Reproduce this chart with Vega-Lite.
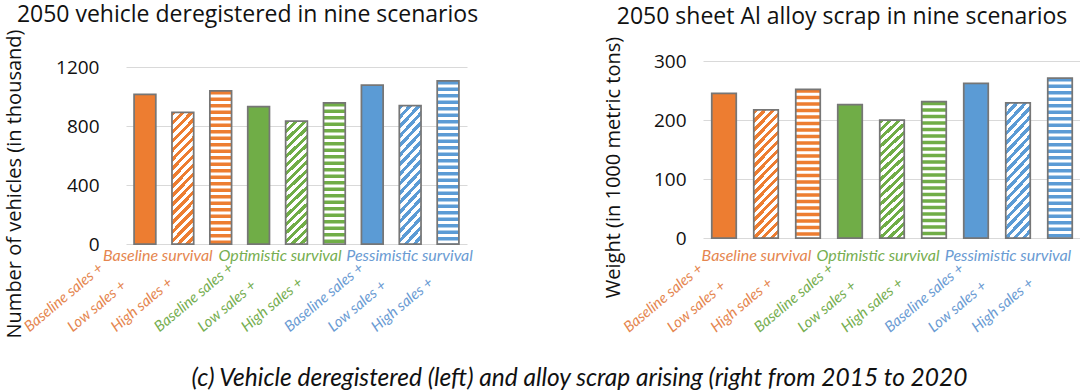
{
  "$schema": "https://vega.github.io/schema/vega-lite/v6.json",
  "background": "white",
  "padding": {"left": 3, "top": 4, "right": 0, "bottom": 0},
  "autosize": {"type": "pad"},
  "bounds": "flush",
  "spacing": 236,
  "title": {"text": "(c) Vehicle deregistered (left) and alloy scrap arising (right from 2015 to 2020", "orient": "bottom", "anchor": "middle", "font": "Lato", "fontStyle": "italic", "fontSize": 24.5, "fontWeight": "normal", "color": "#111111", "offset": 29, "dx": 37},
  "data": {"values": [
    {"id": 1, "sales": "Baseline", "survival": "Baseline", "vehicles": 1015, "scrap": 245},
    {"id": 2, "sales": "Low", "survival": "Baseline", "vehicles": 893, "scrap": 217},
    {"id": 3, "sales": "High", "survival": "Baseline", "vehicles": 1038, "scrap": 252},
    {"id": 4, "sales": "Baseline", "survival": "Optimistic", "vehicles": 931, "scrap": 226},
    {"id": 5, "sales": "Low", "survival": "Optimistic", "vehicles": 833, "scrap": 200},
    {"id": 6, "sales": "High", "survival": "Optimistic", "vehicles": 957, "scrap": 231},
    {"id": 7, "sales": "Baseline", "survival": "Pessimistic", "vehicles": 1078, "scrap": 262},
    {"id": 8, "sales": "Low", "survival": "Pessimistic", "vehicles": 938, "scrap": 229},
    {"id": 9, "sales": "High", "survival": "Pessimistic", "vehicles": 1106, "scrap": 271}
  ]},
  "hconcat": [
    {
      "width": 341,
      "height": 183,
      "title": {"text": "2050 vehicle deregistered in nine scenarios", "font": "Open Sans", "fontSize": 23, "fontWeight": "normal", "color": "#111111", "anchor": "middle", "dx": -49, "offset": 2},
      "encoding": {
        "y": {"field": "vehicles", "type": "quantitative", "scale": {"domain": [0, 1241], "nice": false},
          "axis": {"title": "Number of vehicles (in thousand)", "values": [0, 400, 800, 1200], "format": "d", "domain": false, "ticks": false, "grid": true, "gridColor": "#d9d9d9", "gridWidth": 1.2, "labelPadding": 27, "labelFont": "Open Sans", "labelFontSize": 19, "labelColor": "#111111", "titleFont": "Open Sans", "titleFontSize": 20, "titleFontWeight": "normal", "titleColor": "#111111", "titleX": -112, "titleY": 122.5, "titleBaseline": "middle", "titleAlign": "center", "titleAngle": 270}}
      },
      "layer": [
        {
          "mark": {"type": "bar", "strokeWidth": 0},
          "encoding": {
            "x": {"field": "id", "type": "ordinal", "scale": {"type": "band", "domain": [1, 2, 3, 4, 5, 6, 7, 8, 9], "paddingInner": 0.427, "paddingOuter": 0.2135},
              "axis": {"orient": "bottom", "title": null, "domain": false, "ticks": false, "grid": false, "labelAngle": -40, "labelAlign": "left", "labelBaseline": "alphabetic", "labelPadding": 88, "labelFont": "Lato", "labelFontStyle": "italic", "labelFontSize": 15, "labelOverlap": false,
                "labelExpr": "['Baseline sales +','Low sales +','High sales +'][(datum.value-1)%3]",
                "labelColor": {"condition": [{"test": "datum.value<=3", "value": "#E5864F"}, {"test": "datum.value<=6", "value": "#76AE50"}], "value": "#6A9BD3"},
                "labelOffset": {"condition": [{"test": "datum.value==1", "value": -115.5}, {"test": "datum.value==2", "value": -110}, {"test": "datum.value==3", "value": -104.5}, {"test": "datum.value==4", "value": -99}, {"test": "datum.value==5", "value": -93.5}, {"test": "datum.value==6", "value": -88}, {"test": "datum.value==7", "value": -82.5}, {"test": "datum.value==8", "value": -77}], "value": -71.5}}},
            "fill": {"condition": [
              {"test": "datum.id==1", "value": "#ED7D31"},
              {"test": "datum.id==4", "value": "#70AD47"},
              {"test": "datum.id==7", "value": "#5B9BD5"},
              {"test": "datum.id==2", "value": {"gradient": "linear", "x1": 0, "y1": 0, "x2": 0.193, "y2": 1.137, "stops": [
{"offset":0.0294,"color":"#ED7D31"},{"offset":0.0294,"color":"#fff"},{"offset":0.0588,"color":"#fff"},{"offset":0.0588,"color":"#ED7D31"},
{"offset":0.0882,"color":"#ED7D31"},{"offset":0.0882,"color":"#fff"},{"offset":0.1176,"color":"#fff"},{"offset":0.1176,"color":"#ED7D31"},
{"offset":0.1471,"color":"#ED7D31"},{"offset":0.1471,"color":"#fff"},{"offset":0.1765,"color":"#fff"},{"offset":0.1765,"color":"#ED7D31"},
{"offset":0.2059,"color":"#ED7D31"},{"offset":0.2059,"color":"#fff"},{"offset":0.2353,"color":"#fff"},{"offset":0.2353,"color":"#ED7D31"},
{"offset":0.2647,"color":"#ED7D31"},{"offset":0.2647,"color":"#fff"},{"offset":0.2941,"color":"#fff"},{"offset":0.2941,"color":"#ED7D31"},
{"offset":0.3235,"color":"#ED7D31"},{"offset":0.3235,"color":"#fff"},{"offset":0.3529,"color":"#fff"},{"offset":0.3529,"color":"#ED7D31"},
{"offset":0.3824,"color":"#ED7D31"},{"offset":0.3824,"color":"#fff"},{"offset":0.4118,"color":"#fff"},{"offset":0.4118,"color":"#ED7D31"},
{"offset":0.4412,"color":"#ED7D31"},{"offset":0.4412,"color":"#fff"},{"offset":0.4706,"color":"#fff"},{"offset":0.4706,"color":"#ED7D31"},
{"offset":0.5,"color":"#ED7D31"},{"offset":0.5,"color":"#fff"},{"offset":0.5294,"color":"#fff"},{"offset":0.5294,"color":"#ED7D31"},
{"offset":0.5588,"color":"#ED7D31"},{"offset":0.5588,"color":"#fff"},{"offset":0.5882,"color":"#fff"},{"offset":0.5882,"color":"#ED7D31"},
{"offset":0.6176,"color":"#ED7D31"},{"offset":0.6176,"color":"#fff"},{"offset":0.6471,"color":"#fff"},{"offset":0.6471,"color":"#ED7D31"},
{"offset":0.6765,"color":"#ED7D31"},{"offset":0.6765,"color":"#fff"},{"offset":0.7059,"color":"#fff"},{"offset":0.7059,"color":"#ED7D31"},
{"offset":0.7353,"color":"#ED7D31"},{"offset":0.7353,"color":"#fff"},{"offset":0.7647,"color":"#fff"},{"offset":0.7647,"color":"#ED7D31"},
{"offset":0.7941,"color":"#ED7D31"},{"offset":0.7941,"color":"#fff"},{"offset":0.8235,"color":"#fff"},{"offset":0.8235,"color":"#ED7D31"},
{"offset":0.8529,"color":"#ED7D31"},{"offset":0.8529,"color":"#fff"},{"offset":0.8824,"color":"#fff"},{"offset":0.8824,"color":"#ED7D31"},
{"offset":0.9118,"color":"#ED7D31"},{"offset":0.9118,"color":"#fff"},{"offset":0.9412,"color":"#fff"},{"offset":0.9412,"color":"#ED7D31"},
{"offset":0.9706,"color":"#ED7D31"},{"offset":0.9706,"color":"#fff"}]}},
              {"test": "datum.id==5", "value": {"gradient": "linear", "x1": 0, "y1": 0, "x2": 0.193, "y2": 1.137, "stops": [
{"offset":0.0294,"color":"#70AD47"},{"offset":0.0294,"color":"#fff"},{"offset":0.0588,"color":"#fff"},{"offset":0.0588,"color":"#70AD47"},
{"offset":0.0882,"color":"#70AD47"},{"offset":0.0882,"color":"#fff"},{"offset":0.1176,"color":"#fff"},{"offset":0.1176,"color":"#70AD47"},
{"offset":0.1471,"color":"#70AD47"},{"offset":0.1471,"color":"#fff"},{"offset":0.1765,"color":"#fff"},{"offset":0.1765,"color":"#70AD47"},
{"offset":0.2059,"color":"#70AD47"},{"offset":0.2059,"color":"#fff"},{"offset":0.2353,"color":"#fff"},{"offset":0.2353,"color":"#70AD47"},
{"offset":0.2647,"color":"#70AD47"},{"offset":0.2647,"color":"#fff"},{"offset":0.2941,"color":"#fff"},{"offset":0.2941,"color":"#70AD47"},
{"offset":0.3235,"color":"#70AD47"},{"offset":0.3235,"color":"#fff"},{"offset":0.3529,"color":"#fff"},{"offset":0.3529,"color":"#70AD47"},
{"offset":0.3824,"color":"#70AD47"},{"offset":0.3824,"color":"#fff"},{"offset":0.4118,"color":"#fff"},{"offset":0.4118,"color":"#70AD47"},
{"offset":0.4412,"color":"#70AD47"},{"offset":0.4412,"color":"#fff"},{"offset":0.4706,"color":"#fff"},{"offset":0.4706,"color":"#70AD47"},
{"offset":0.5,"color":"#70AD47"},{"offset":0.5,"color":"#fff"},{"offset":0.5294,"color":"#fff"},{"offset":0.5294,"color":"#70AD47"},
{"offset":0.5588,"color":"#70AD47"},{"offset":0.5588,"color":"#fff"},{"offset":0.5882,"color":"#fff"},{"offset":0.5882,"color":"#70AD47"},
{"offset":0.6176,"color":"#70AD47"},{"offset":0.6176,"color":"#fff"},{"offset":0.6471,"color":"#fff"},{"offset":0.6471,"color":"#70AD47"},
{"offset":0.6765,"color":"#70AD47"},{"offset":0.6765,"color":"#fff"},{"offset":0.7059,"color":"#fff"},{"offset":0.7059,"color":"#70AD47"},
{"offset":0.7353,"color":"#70AD47"},{"offset":0.7353,"color":"#fff"},{"offset":0.7647,"color":"#fff"},{"offset":0.7647,"color":"#70AD47"},
{"offset":0.7941,"color":"#70AD47"},{"offset":0.7941,"color":"#fff"},{"offset":0.8235,"color":"#fff"},{"offset":0.8235,"color":"#70AD47"},
{"offset":0.8529,"color":"#70AD47"},{"offset":0.8529,"color":"#fff"},{"offset":0.8824,"color":"#fff"},{"offset":0.8824,"color":"#70AD47"},
{"offset":0.9118,"color":"#70AD47"},{"offset":0.9118,"color":"#fff"},{"offset":0.9412,"color":"#fff"},{"offset":0.9412,"color":"#70AD47"},
{"offset":0.9706,"color":"#70AD47"},{"offset":0.9706,"color":"#fff"}]}},
              {"test": "datum.id==8", "value": {"gradient": "linear", "x1": 0, "y1": 0, "x2": 0.193, "y2": 1.137, "stops": [
{"offset":0.0294,"color":"#5B9BD5"},{"offset":0.0294,"color":"#fff"},{"offset":0.0588,"color":"#fff"},{"offset":0.0588,"color":"#5B9BD5"},
{"offset":0.0882,"color":"#5B9BD5"},{"offset":0.0882,"color":"#fff"},{"offset":0.1176,"color":"#fff"},{"offset":0.1176,"color":"#5B9BD5"},
{"offset":0.1471,"color":"#5B9BD5"},{"offset":0.1471,"color":"#fff"},{"offset":0.1765,"color":"#fff"},{"offset":0.1765,"color":"#5B9BD5"},
{"offset":0.2059,"color":"#5B9BD5"},{"offset":0.2059,"color":"#fff"},{"offset":0.2353,"color":"#fff"},{"offset":0.2353,"color":"#5B9BD5"},
{"offset":0.2647,"color":"#5B9BD5"},{"offset":0.2647,"color":"#fff"},{"offset":0.2941,"color":"#fff"},{"offset":0.2941,"color":"#5B9BD5"},
{"offset":0.3235,"color":"#5B9BD5"},{"offset":0.3235,"color":"#fff"},{"offset":0.3529,"color":"#fff"},{"offset":0.3529,"color":"#5B9BD5"},
{"offset":0.3824,"color":"#5B9BD5"},{"offset":0.3824,"color":"#fff"},{"offset":0.4118,"color":"#fff"},{"offset":0.4118,"color":"#5B9BD5"},
{"offset":0.4412,"color":"#5B9BD5"},{"offset":0.4412,"color":"#fff"},{"offset":0.4706,"color":"#fff"},{"offset":0.4706,"color":"#5B9BD5"},
{"offset":0.5,"color":"#5B9BD5"},{"offset":0.5,"color":"#fff"},{"offset":0.5294,"color":"#fff"},{"offset":0.5294,"color":"#5B9BD5"},
{"offset":0.5588,"color":"#5B9BD5"},{"offset":0.5588,"color":"#fff"},{"offset":0.5882,"color":"#fff"},{"offset":0.5882,"color":"#5B9BD5"},
{"offset":0.6176,"color":"#5B9BD5"},{"offset":0.6176,"color":"#fff"},{"offset":0.6471,"color":"#fff"},{"offset":0.6471,"color":"#5B9BD5"},
{"offset":0.6765,"color":"#5B9BD5"},{"offset":0.6765,"color":"#fff"},{"offset":0.7059,"color":"#fff"},{"offset":0.7059,"color":"#5B9BD5"},
{"offset":0.7353,"color":"#5B9BD5"},{"offset":0.7353,"color":"#fff"},{"offset":0.7647,"color":"#fff"},{"offset":0.7647,"color":"#5B9BD5"},
{"offset":0.7941,"color":"#5B9BD5"},{"offset":0.7941,"color":"#fff"},{"offset":0.8235,"color":"#fff"},{"offset":0.8235,"color":"#5B9BD5"},
{"offset":0.8529,"color":"#5B9BD5"},{"offset":0.8529,"color":"#fff"},{"offset":0.8824,"color":"#fff"},{"offset":0.8824,"color":"#5B9BD5"},
{"offset":0.9118,"color":"#5B9BD5"},{"offset":0.9118,"color":"#fff"},{"offset":0.9412,"color":"#fff"},{"offset":0.9412,"color":"#5B9BD5"},
{"offset":0.9706,"color":"#5B9BD5"},{"offset":0.9706,"color":"#fff"}]}}
            ], "value": "#ffffff"}
          }
        },
        {
          "transform": [{"filter": "datum.sales=='High'"}],
          "mark": {"type": "rule", "strokeWidth": 22, "strokeDash": [3.5, 3], "strokeCap": "butt"},
          "encoding": {
            "x": {"field": "id", "type": "ordinal", "scale": {"type": "band", "domain": [1, 2, 3, 4, 5, 6, 7, 8, 9], "paddingInner": 0.427, "paddingOuter": 0.2135}, "axis": null},
            "y2": {"datum": 0},
            "stroke": {"condition": [{"test": "datum.survival=='Baseline'", "value": "#ED7D31"}, {"test": "datum.survival=='Optimistic'", "value": "#70AD47"}], "value": "#5B9BD5"}
          }
        },
        {
          "mark": {"type": "bar", "fill": "transparent", "stroke": "#767676", "strokeWidth": 1.75},
          "encoding": {
            "x": {"field": "id", "type": "ordinal", "scale": {"type": "band", "domain": [1, 2, 3, 4, 5, 6, 7, 8, 9], "paddingInner": 0.427, "paddingOuter": 0.2135},
              "axis": {"orient": "bottom", "title": null, "domain": false, "ticks": false, "grid": false, "labelAngle": 0, "labelAlign": "center", "labelBaseline": "top", "labelPadding": 3, "labelFont": "Lato", "labelFontStyle": "italic", "labelFontSize": 16, "labelOverlap": false,
                "labelExpr": "datum.value==2?'Baseline survival':datum.value==5?'Optimistic survival':datum.value==8?'Pessimistic survival':''",
                "labelColor": {"condition": [{"test": "datum.value<=3", "value": "#E5864F"}, {"test": "datum.value<=6", "value": "#76AE50"}], "value": "#6A9BD3"},
                "labelOffset": {"condition": [{"test": "datum.value==2", "value": -25}, {"test": "datum.value==5", "value": -16.5}], "value": -0.6}}}
          }
        }
      ],
      "resolve": {"scale": {"x": "independent"}, "axis": {"x": "independent"}}
    },
    {
      "width": 378,
      "height": 177,
      "title": {"text": "2050 sheet Al alloy scrap in nine scenarios", "font": "Open Sans", "fontSize": 23, "fontWeight": "normal", "color": "#111111", "anchor": "middle", "dx": -50, "offset": 7},
      "encoding": {
        "y": {"field": "scrap", "type": "quantitative", "scale": {"domain": [0, 300], "nice": false},
          "axis": {"title": "Weight (in 1000 metric tons)", "values": [0, 100, 200, 300], "format": "d", "domain": false, "ticks": false, "grid": true, "gridColor": "#d9d9d9", "gridWidth": 1.2, "labelPadding": 17, "labelFont": "Open Sans", "labelFontSize": 19, "labelColor": "#111111", "titleFont": "Open Sans", "titleFontSize": 20, "titleFontWeight": "normal", "titleColor": "#111111", "titleX": -90, "titleY": 106, "titleBaseline": "middle", "titleAlign": "center", "titleAngle": 270}}
      },
      "layer": [
        {
          "mark": {"type": "bar", "strokeWidth": 0},
          "encoding": {
            "x": {"field": "id", "type": "ordinal", "scale": {"type": "band", "domain": [1, 2, 3, 4, 5, 6, 7, 8, 9], "paddingInner": 0.417, "paddingOuter": 0.2085},
              "axis": {"orient": "bottom", "title": null, "domain": false, "ticks": false, "grid": false, "labelAngle": -40, "labelAlign": "left", "labelBaseline": "alphabetic", "labelPadding": 94.5, "labelFont": "Lato", "labelFontStyle": "italic", "labelFontSize": 15, "labelOverlap": false,
                "labelExpr": "['Baseline sales +','Low sales +','High sales +'][(datum.value-1)%3]",
                "labelColor": {"condition": [{"test": "datum.value<=3", "value": "#E5864F"}, {"test": "datum.value<=6", "value": "#76AE50"}], "value": "#6A9BD3"},
                "labelOffset": {"condition": [{"test": "datum.value==1", "value": -95}, {"test": "datum.value==2", "value": -93.5}, {"test": "datum.value==3", "value": -92}, {"test": "datum.value==4", "value": -90.5}, {"test": "datum.value==5", "value": -89}, {"test": "datum.value==6", "value": -87.5}, {"test": "datum.value==7", "value": -86}, {"test": "datum.value==8", "value": -84.5}], "value": -83}}},
            "fill": {"condition": [
              {"test": "datum.id==1", "value": "#ED7D31"},
              {"test": "datum.id==4", "value": "#70AD47"},
              {"test": "datum.id==7", "value": "#5B9BD5"},
              {"test": "datum.id==2", "value": {"gradient": "linear", "x1": 0, "y1": 0, "x2": 0.2245, "y2": 1.151, "stops": [
{"offset":0.0294,"color":"#ED7D31"},{"offset":0.0294,"color":"#fff"},{"offset":0.0588,"color":"#fff"},{"offset":0.0588,"color":"#ED7D31"},
{"offset":0.0882,"color":"#ED7D31"},{"offset":0.0882,"color":"#fff"},{"offset":0.1176,"color":"#fff"},{"offset":0.1176,"color":"#ED7D31"},
{"offset":0.1471,"color":"#ED7D31"},{"offset":0.1471,"color":"#fff"},{"offset":0.1765,"color":"#fff"},{"offset":0.1765,"color":"#ED7D31"},
{"offset":0.2059,"color":"#ED7D31"},{"offset":0.2059,"color":"#fff"},{"offset":0.2353,"color":"#fff"},{"offset":0.2353,"color":"#ED7D31"},
{"offset":0.2647,"color":"#ED7D31"},{"offset":0.2647,"color":"#fff"},{"offset":0.2941,"color":"#fff"},{"offset":0.2941,"color":"#ED7D31"},
{"offset":0.3235,"color":"#ED7D31"},{"offset":0.3235,"color":"#fff"},{"offset":0.3529,"color":"#fff"},{"offset":0.3529,"color":"#ED7D31"},
{"offset":0.3824,"color":"#ED7D31"},{"offset":0.3824,"color":"#fff"},{"offset":0.4118,"color":"#fff"},{"offset":0.4118,"color":"#ED7D31"},
{"offset":0.4412,"color":"#ED7D31"},{"offset":0.4412,"color":"#fff"},{"offset":0.4706,"color":"#fff"},{"offset":0.4706,"color":"#ED7D31"},
{"offset":0.5,"color":"#ED7D31"},{"offset":0.5,"color":"#fff"},{"offset":0.5294,"color":"#fff"},{"offset":0.5294,"color":"#ED7D31"},
{"offset":0.5588,"color":"#ED7D31"},{"offset":0.5588,"color":"#fff"},{"offset":0.5882,"color":"#fff"},{"offset":0.5882,"color":"#ED7D31"},
{"offset":0.6176,"color":"#ED7D31"},{"offset":0.6176,"color":"#fff"},{"offset":0.6471,"color":"#fff"},{"offset":0.6471,"color":"#ED7D31"},
{"offset":0.6765,"color":"#ED7D31"},{"offset":0.6765,"color":"#fff"},{"offset":0.7059,"color":"#fff"},{"offset":0.7059,"color":"#ED7D31"},
{"offset":0.7353,"color":"#ED7D31"},{"offset":0.7353,"color":"#fff"},{"offset":0.7647,"color":"#fff"},{"offset":0.7647,"color":"#ED7D31"},
{"offset":0.7941,"color":"#ED7D31"},{"offset":0.7941,"color":"#fff"},{"offset":0.8235,"color":"#fff"},{"offset":0.8235,"color":"#ED7D31"},
{"offset":0.8529,"color":"#ED7D31"},{"offset":0.8529,"color":"#fff"},{"offset":0.8824,"color":"#fff"},{"offset":0.8824,"color":"#ED7D31"},
{"offset":0.9118,"color":"#ED7D31"},{"offset":0.9118,"color":"#fff"},{"offset":0.9412,"color":"#fff"},{"offset":0.9412,"color":"#ED7D31"},
{"offset":0.9706,"color":"#ED7D31"},{"offset":0.9706,"color":"#fff"}]}},
              {"test": "datum.id==5", "value": {"gradient": "linear", "x1": 0, "y1": 0, "x2": 0.2245, "y2": 1.151, "stops": [
{"offset":0.0294,"color":"#70AD47"},{"offset":0.0294,"color":"#fff"},{"offset":0.0588,"color":"#fff"},{"offset":0.0588,"color":"#70AD47"},
{"offset":0.0882,"color":"#70AD47"},{"offset":0.0882,"color":"#fff"},{"offset":0.1176,"color":"#fff"},{"offset":0.1176,"color":"#70AD47"},
{"offset":0.1471,"color":"#70AD47"},{"offset":0.1471,"color":"#fff"},{"offset":0.1765,"color":"#fff"},{"offset":0.1765,"color":"#70AD47"},
{"offset":0.2059,"color":"#70AD47"},{"offset":0.2059,"color":"#fff"},{"offset":0.2353,"color":"#fff"},{"offset":0.2353,"color":"#70AD47"},
{"offset":0.2647,"color":"#70AD47"},{"offset":0.2647,"color":"#fff"},{"offset":0.2941,"color":"#fff"},{"offset":0.2941,"color":"#70AD47"},
{"offset":0.3235,"color":"#70AD47"},{"offset":0.3235,"color":"#fff"},{"offset":0.3529,"color":"#fff"},{"offset":0.3529,"color":"#70AD47"},
{"offset":0.3824,"color":"#70AD47"},{"offset":0.3824,"color":"#fff"},{"offset":0.4118,"color":"#fff"},{"offset":0.4118,"color":"#70AD47"},
{"offset":0.4412,"color":"#70AD47"},{"offset":0.4412,"color":"#fff"},{"offset":0.4706,"color":"#fff"},{"offset":0.4706,"color":"#70AD47"},
{"offset":0.5,"color":"#70AD47"},{"offset":0.5,"color":"#fff"},{"offset":0.5294,"color":"#fff"},{"offset":0.5294,"color":"#70AD47"},
{"offset":0.5588,"color":"#70AD47"},{"offset":0.5588,"color":"#fff"},{"offset":0.5882,"color":"#fff"},{"offset":0.5882,"color":"#70AD47"},
{"offset":0.6176,"color":"#70AD47"},{"offset":0.6176,"color":"#fff"},{"offset":0.6471,"color":"#fff"},{"offset":0.6471,"color":"#70AD47"},
{"offset":0.6765,"color":"#70AD47"},{"offset":0.6765,"color":"#fff"},{"offset":0.7059,"color":"#fff"},{"offset":0.7059,"color":"#70AD47"},
{"offset":0.7353,"color":"#70AD47"},{"offset":0.7353,"color":"#fff"},{"offset":0.7647,"color":"#fff"},{"offset":0.7647,"color":"#70AD47"},
{"offset":0.7941,"color":"#70AD47"},{"offset":0.7941,"color":"#fff"},{"offset":0.8235,"color":"#fff"},{"offset":0.8235,"color":"#70AD47"},
{"offset":0.8529,"color":"#70AD47"},{"offset":0.8529,"color":"#fff"},{"offset":0.8824,"color":"#fff"},{"offset":0.8824,"color":"#70AD47"},
{"offset":0.9118,"color":"#70AD47"},{"offset":0.9118,"color":"#fff"},{"offset":0.9412,"color":"#fff"},{"offset":0.9412,"color":"#70AD47"},
{"offset":0.9706,"color":"#70AD47"},{"offset":0.9706,"color":"#fff"}]}},
              {"test": "datum.id==8", "value": {"gradient": "linear", "x1": 0, "y1": 0, "x2": 0.2245, "y2": 1.151, "stops": [
{"offset":0.0294,"color":"#5B9BD5"},{"offset":0.0294,"color":"#fff"},{"offset":0.0588,"color":"#fff"},{"offset":0.0588,"color":"#5B9BD5"},
{"offset":0.0882,"color":"#5B9BD5"},{"offset":0.0882,"color":"#fff"},{"offset":0.1176,"color":"#fff"},{"offset":0.1176,"color":"#5B9BD5"},
{"offset":0.1471,"color":"#5B9BD5"},{"offset":0.1471,"color":"#fff"},{"offset":0.1765,"color":"#fff"},{"offset":0.1765,"color":"#5B9BD5"},
{"offset":0.2059,"color":"#5B9BD5"},{"offset":0.2059,"color":"#fff"},{"offset":0.2353,"color":"#fff"},{"offset":0.2353,"color":"#5B9BD5"},
{"offset":0.2647,"color":"#5B9BD5"},{"offset":0.2647,"color":"#fff"},{"offset":0.2941,"color":"#fff"},{"offset":0.2941,"color":"#5B9BD5"},
{"offset":0.3235,"color":"#5B9BD5"},{"offset":0.3235,"color":"#fff"},{"offset":0.3529,"color":"#fff"},{"offset":0.3529,"color":"#5B9BD5"},
{"offset":0.3824,"color":"#5B9BD5"},{"offset":0.3824,"color":"#fff"},{"offset":0.4118,"color":"#fff"},{"offset":0.4118,"color":"#5B9BD5"},
{"offset":0.4412,"color":"#5B9BD5"},{"offset":0.4412,"color":"#fff"},{"offset":0.4706,"color":"#fff"},{"offset":0.4706,"color":"#5B9BD5"},
{"offset":0.5,"color":"#5B9BD5"},{"offset":0.5,"color":"#fff"},{"offset":0.5294,"color":"#fff"},{"offset":0.5294,"color":"#5B9BD5"},
{"offset":0.5588,"color":"#5B9BD5"},{"offset":0.5588,"color":"#fff"},{"offset":0.5882,"color":"#fff"},{"offset":0.5882,"color":"#5B9BD5"},
{"offset":0.6176,"color":"#5B9BD5"},{"offset":0.6176,"color":"#fff"},{"offset":0.6471,"color":"#fff"},{"offset":0.6471,"color":"#5B9BD5"},
{"offset":0.6765,"color":"#5B9BD5"},{"offset":0.6765,"color":"#fff"},{"offset":0.7059,"color":"#fff"},{"offset":0.7059,"color":"#5B9BD5"},
{"offset":0.7353,"color":"#5B9BD5"},{"offset":0.7353,"color":"#fff"},{"offset":0.7647,"color":"#fff"},{"offset":0.7647,"color":"#5B9BD5"},
{"offset":0.7941,"color":"#5B9BD5"},{"offset":0.7941,"color":"#fff"},{"offset":0.8235,"color":"#fff"},{"offset":0.8235,"color":"#5B9BD5"},
{"offset":0.8529,"color":"#5B9BD5"},{"offset":0.8529,"color":"#fff"},{"offset":0.8824,"color":"#fff"},{"offset":0.8824,"color":"#5B9BD5"},
{"offset":0.9118,"color":"#5B9BD5"},{"offset":0.9118,"color":"#fff"},{"offset":0.9412,"color":"#fff"},{"offset":0.9412,"color":"#5B9BD5"},
{"offset":0.9706,"color":"#5B9BD5"},{"offset":0.9706,"color":"#fff"}]}}
            ], "value": "#ffffff"}
          }
        },
        {
          "transform": [{"filter": "datum.sales=='High'"}],
          "mark": {"type": "rule", "strokeWidth": 24.5, "strokeDash": [3.5, 3], "strokeCap": "butt"},
          "encoding": {
            "x": {"field": "id", "type": "ordinal", "scale": {"type": "band", "domain": [1, 2, 3, 4, 5, 6, 7, 8, 9], "paddingInner": 0.417, "paddingOuter": 0.2085}, "axis": null},
            "y2": {"datum": 0},
            "stroke": {"condition": [{"test": "datum.survival=='Baseline'", "value": "#ED7D31"}, {"test": "datum.survival=='Optimistic'", "value": "#70AD47"}], "value": "#5B9BD5"}
          }
        },
        {
          "mark": {"type": "bar", "fill": "transparent", "stroke": "#767676", "strokeWidth": 1.75},
          "encoding": {
            "x": {"field": "id", "type": "ordinal", "scale": {"type": "band", "domain": [1, 2, 3, 4, 5, 6, 7, 8, 9], "paddingInner": 0.417, "paddingOuter": 0.2085},
              "axis": {"orient": "bottom", "title": null, "domain": false, "ticks": false, "grid": false, "labelAngle": 0, "labelAlign": "center", "labelBaseline": "top", "labelPadding": 9, "labelFont": "Lato", "labelFontStyle": "italic", "labelFontSize": 16, "labelOverlap": false,
                "labelExpr": "datum.value==2?'Baseline survival':datum.value==5?'Optimistic survival':datum.value==8?'Pessimistic survival':''",
                "labelColor": {"condition": [{"test": "datum.value<=3", "value": "#E5864F"}, {"test": "datum.value<=6", "value": "#76AE50"}], "value": "#6A9BD3"},
                "labelOffset": {"condition": [{"test": "datum.value==2", "value": -9.5}, {"test": "datum.value==5", "value": -14}], "value": -10}}}
          }
        }
      ],
      "resolve": {"scale": {"x": "independent"}, "axis": {"x": "independent"}}
    }
  ],
  "config": {"view": {"stroke": null}}
}
